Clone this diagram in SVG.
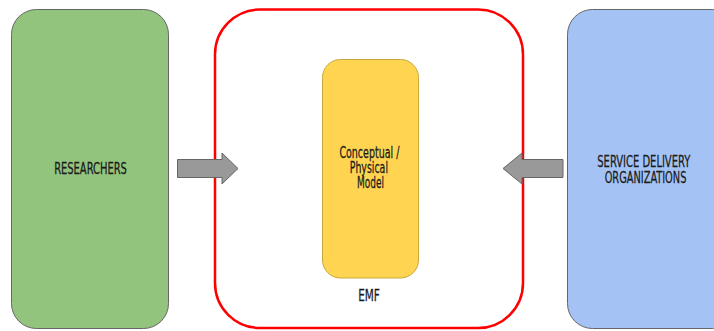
<svg xmlns="http://www.w3.org/2000/svg" width="714" height="331" viewBox="0 0 714 331">
  <style>
    .lbl { font-family: "DejaVu Sans Condensed", "Liberation Sans Narrow", "Liberation Sans", sans-serif; fill: #1a1a1a; text-anchor: middle; font-size: 16px; font-weight: 500; stroke: #1a1a1a; stroke-width: 0.25; }
    .side { stroke: #666; stroke-width: 1; }
    .arrow { fill: #999; stroke: #666; stroke-width: 1; }
  </style>
  <rect width="714" height="331" fill="#fff"/>

  <g id="researchers">
    <rect class="side" x="11.5" y="9.5" width="157" height="319" rx="25" fill="#93c47d"/>
    <g transform="translate(90.5,174) scale(0.75,1)">
      <text class="lbl" x="0" y="0" textLength="97" lengthAdjust="spacingAndGlyphs">RESEARCHERS</text>
    </g>
  </g>

  <g id="emf">
    <rect x="215" y="9.5" width="308" height="318.5" rx="45" fill="none" stroke="#ff0000" stroke-width="2.5"/>
    <g transform="translate(369,301) scale(0.75,1)">
      <text class="lbl" x="0" y="0" textLength="29" lengthAdjust="spacingAndGlyphs">EMF</text>
    </g>
  </g>

  <g id="model">
    <rect x="322.5" y="59.5" width="96" height="218.5" rx="18" fill="#ffd451" stroke="#c9a93d" stroke-width="1"/>
    <g transform="translate(371,0) scale(0.75,1)">
      <text class="lbl" style="font-size:15px">
        <tspan x="0" y="158" textLength="80" lengthAdjust="spacingAndGlyphs">Conceptual /</tspan>
        <tspan x="-0.7" y="173" textLength="51" lengthAdjust="spacingAndGlyphs">Physical</tspan>
        <tspan x="-0.7" y="188" textLength="36" lengthAdjust="spacingAndGlyphs">Model</tspan>
      </text>
    </g>
  </g>

  <g id="service-delivery">
    <rect class="side" x="567.5" y="9.5" width="170" height="319" rx="25" fill="#a4c2f4"/>
    <g transform="translate(645.5,0) scale(0.75,1)">
      <text class="lbl">
        <tspan x="0" y="167" textLength="124" lengthAdjust="spacingAndGlyphs">SERVICE DELIVERY</tspan>
        <tspan x="0" y="183" textLength="109" lengthAdjust="spacingAndGlyphs">ORGANIZATIONS</tspan>
      </text>
    </g>
  </g>

  <g id="connectors">
    <polygon class="arrow" points="177.5,159.5 222,159.5 222,153 238,168.5 222,184 222,177.5 177.5,177.5"/>
    <polygon class="arrow" points="563,159.5 522,159.5 522,153 503,168.5 522,184 522,177.5 563,177.5"/>
  </g>
</svg>
